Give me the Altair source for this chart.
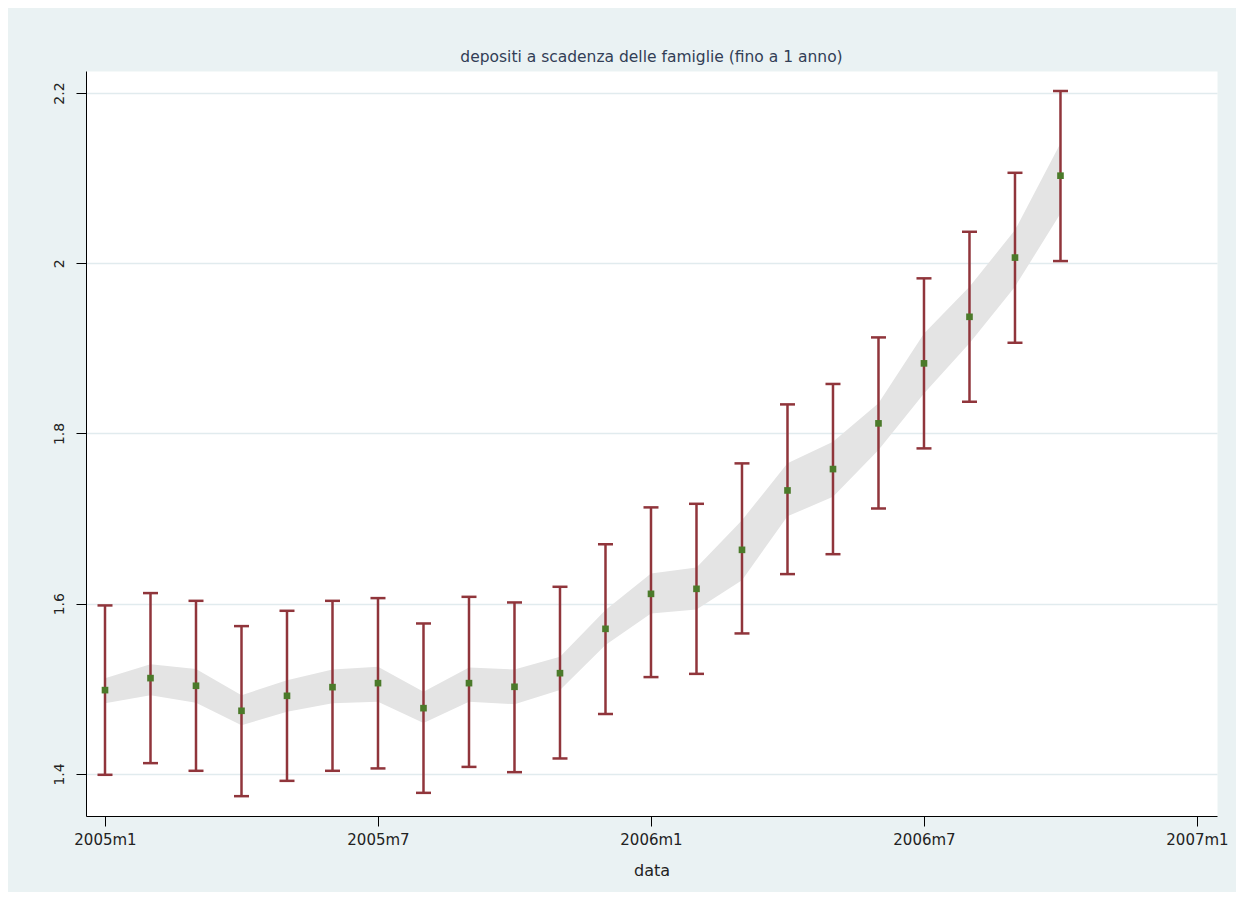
import altair as alt
import pandas as pd

# ---- data ----
month_labels = ["2005m1", "2005m2", "2005m3", "2005m4", "2005m5", "2005m6",
                "2005m7", "2005m8", "2005m9", "2005m10", "2005m11", "2005m12",
                "2006m1", "2006m2", "2006m3", "2006m4", "2006m5", "2006m6",
                "2006m7", "2006m8", "2006m9", "2006m10"]
point_values = [1.4985, 1.5126, 1.5036, 1.4742, 1.4918, 1.5020, 1.5067, 1.4773,
                1.5067, 1.5024, 1.5184, 1.5705, 1.6116, 1.6175, 1.6633, 1.7331,
                1.7582, 1.8119, 1.8824, 1.9371, 2.0067, 2.1029]
ci_lower = [1.3990, 1.4127, 1.4037, 1.3739, 1.3919, 1.4037, 1.4065, 1.3778,
            1.4083, 1.4021, 1.4182, 1.4703, 1.5138, 1.5176, 1.5651, 1.6348,
            1.6582, 1.7119, 1.7825, 1.8373, 1.9066, 2.0026]
ci_upper = [1.5980, 1.6125, 1.6034, 1.5737, 1.5917, 1.6034, 1.6066, 1.5768,
            1.6081, 1.6015, 1.6199, 1.6700, 1.7132, 1.7174, 1.7649, 1.8342,
            1.8582, 1.9129, 1.9823, 2.0370, 2.1063, 2.2024]
band_lower = [1.4831, 1.4926, 1.4836, 1.4573, 1.4730, 1.4830, 1.4847, 1.4600,
              1.4847, 1.4820, 1.4985, 1.5514, 1.5886, 1.5933, 1.6277, 1.7027,
              1.7256, 1.7805, 1.8471, 1.9060, 1.9724, 2.0586]
band_upper = [1.5125, 1.5290, 1.5232, 1.4926, 1.5100, 1.5228, 1.5259, 1.4965,
              1.5252, 1.5228, 1.5376, 1.5925, 1.6356, 1.6427, 1.6982, 1.7649,
              1.7902, 1.8354, 1.9176, 1.9724, 2.0390, 2.1409]

x_tick_values = [0, 6, 12, 18, 24]
x_tick_labels = ["2005m1", "2005m7", "2006m1", "2006m7", "2007m1"]
y_tick_values = [1.4, 1.6, 1.8, 2.0, 2.2]

title_text = "depositi a scadenza delle famiglie (fino a 1 anno)"
x_title = "data"

df = pd.DataFrame({
    "t": list(range(len(month_labels))),
    "mese": month_labels,
    "valore": point_values,
    "ci_lo": ci_lower,
    "ci_hi": ci_upper,
    "band_lo": band_lower,
    "band_hi": band_upper,
})

# label expression built from the tick lists
label_expr = "''"
for v, l in reversed(list(zip(x_tick_values, x_tick_labels))):
    label_expr = f"datum.value == {v} ? '{l}' : ({label_expr})"

FONT = "DejaVu Sans"
RED = "#90353b"
GREEN = "#4b7a2a"
BAND = "#e4e4e4"
BG = "#eaf2f3"
GRID = "#e1ebee"

x_scale = alt.Scale(domain=[-0.4176, 24.44], nice=False, zero=False)
y_scale = alt.Scale(domain=[1.3506, 2.2259], nice=False, zero=False)

x_axis = alt.Axis(values=x_tick_values, labelExpr=label_expr, grid=False,
                  labelFont=FONT, labelFontSize=15, labelColor="#222222",
                  labelPadding=6, tickSize=10, tickColor="#000000",
                  domainColor="#000000", domainWidth=1,
                  titleFont=FONT, titleFontSize=16, titleFontWeight="normal",
                  titleColor="#222222", titlePadding=15, labelFlush=False)
y_axis = alt.Axis(values=y_tick_values, format="~g", grid=True,
                  gridColor=GRID, gridWidth=1.5,
                  labelFont=FONT, labelFontSize=14, labelColor="#222222",
                  labelAngle=270, labelPadding=10, tickSize=10,
                  tickColor="#000000", domainColor="#000000", domainWidth=1,
                  labelFlush=False)

X = alt.X("t:Q", scale=x_scale, axis=x_axis, title=x_title)

base = alt.Chart(df)

band = base.mark_area(color=BAND, opacity=1).encode(
    x=X,
    y=alt.Y("band_lo:Q", scale=y_scale, axis=y_axis, title=None),
    y2="band_hi:Q",
)
rules = base.mark_rule(color=RED, strokeWidth=2.5).encode(
    x=X,
    y=alt.Y("ci_lo:Q", scale=y_scale, title=None),
    y2="ci_hi:Q",
)
cap_lo = base.mark_tick(color=RED, orient="horizontal", size=15,
                        thickness=2.5, opacity=1).encode(
    x=X, y=alt.Y("ci_lo:Q", scale=y_scale, title=None))
cap_hi = base.mark_tick(color=RED, orient="horizontal", size=15,
                        thickness=2.5, opacity=1).encode(
    x=X, y=alt.Y("ci_hi:Q", scale=y_scale, title=None))
points = base.mark_square(color=GREEN, size=44, opacity=1).encode(
    x=X, y=alt.Y("valore:Q", scale=y_scale, title=None))

chart = alt.layer(band, rules, cap_lo, cap_hi, points).properties(
    width=1131,
    height=745,
    autosize=alt.AutoSizeParams(type="none"),
    padding={"left": 78, "top": 63, "right": 19, "bottom": 76},
    background=BG,
    title=alt.TitleParams(text=title_text, font=FONT, fontSize=15.5,
                          fontWeight="normal", color="#323e56",
                          anchor="middle", frame="group", offset=6),
).configure_view(fill="white", stroke="transparent")

chart.save("out.html", embed_options={"renderer": "svg", "actions": False})
